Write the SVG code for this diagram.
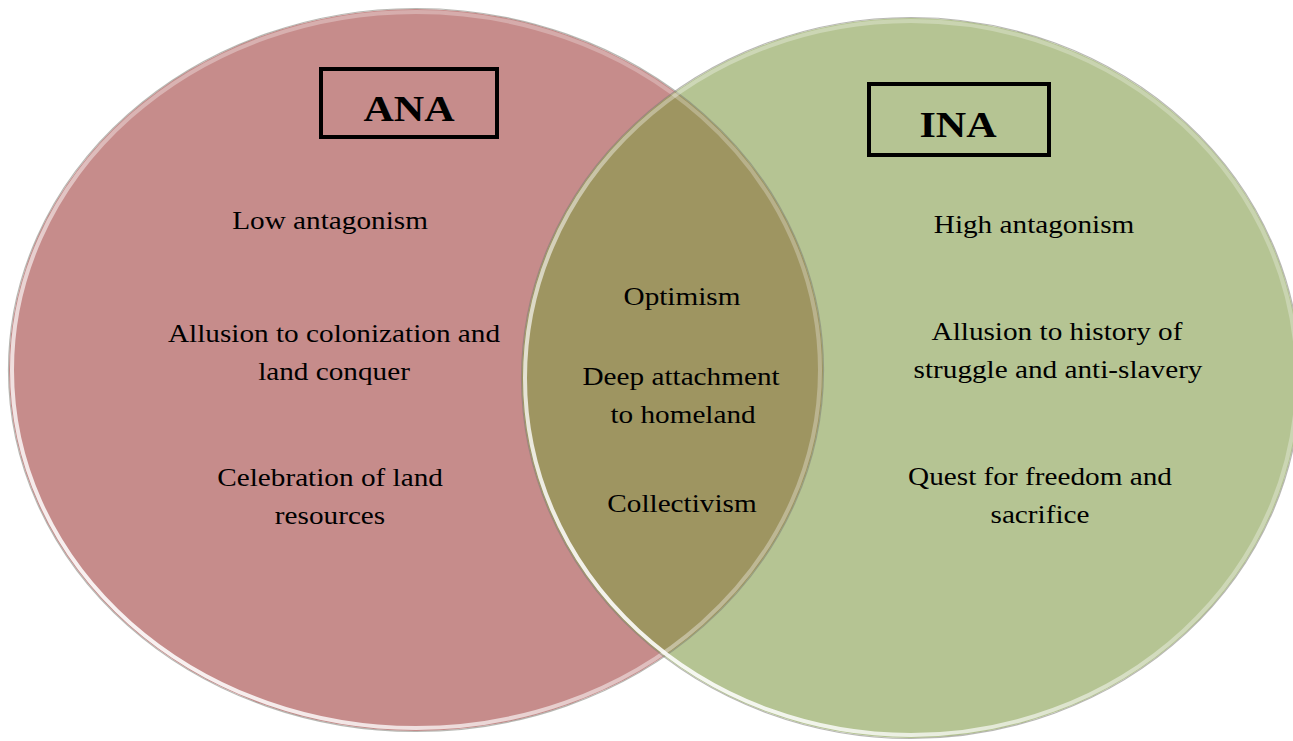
<svg xmlns="http://www.w3.org/2000/svg" width="1293" height="741" viewBox="0 0 1293 741">
<style>
.t{font-family:"Liberation Serif","Times New Roman",serif;font-size:25px;fill:#000;text-anchor:middle}
.h{font-family:"Liberation Serif","Times New Roman",serif;font-size:36px;font-weight:bold;fill:#000;text-anchor:middle}
.box{fill:none;stroke:#000;stroke-width:4}
.rim{fill:none;stroke:url(#rimGrad);stroke-width:4}
.shade{fill:none;stroke:#7d7d75;stroke-width:1.2;opacity:0.55}
</style>
<defs>
<clipPath id="clipL"><ellipse cx="416" cy="370" rx="407" ry="361"/></clipPath>
<linearGradient id="rimGrad" x1="0.9" y1="0.1" x2="0.1" y2="0.9">
<stop offset="0" stop-color="#ffffff" stop-opacity="0.25"/>
<stop offset="0.5" stop-color="#ffffff" stop-opacity="0.35"/>
<stop offset="1" stop-color="#ffffff" stop-opacity="0.95"/>
</linearGradient>
</defs>
<rect width="1293" height="741" fill="#ffffff"/>
<g id="ana-circle">
<ellipse cx="416" cy="370" rx="407" ry="361" fill="#c68c8b"/>
</g>
<g id="ina-circle">
<ellipse cx="911" cy="378" rx="389" ry="360" fill="#b5c493"/>
</g>
<g id="overlap">
<ellipse cx="911" cy="378" rx="389" ry="360" fill="#9e9561" clip-path="url(#clipL)"/>
</g>
<g id="rims">
<ellipse class="shade" cx="416" cy="370" rx="407.5" ry="361.5"/>
<ellipse class="rim" cx="416" cy="370" rx="404" ry="358"/>
<ellipse class="shade" cx="911" cy="378" rx="389.5" ry="360.5"/>
<ellipse class="rim" cx="911" cy="378" rx="386" ry="357"/>
</g>
<g id="connectors"></g>
<g id="ana-label">
<rect class="box" x="321" y="69" width="176" height="68"/>
<text class="h" transform="scale(1.17,1)" x="349.6" y="121">ANA</text>
</g>
<g id="ina-label">
<rect class="box" x="869" y="84" width="180" height="71"/>
<text class="h" transform="scale(1.17,1)" x="818.8" y="137">INA</text>
</g>
<g id="ana-items" transform="scale(1.17,1)">
<text class="t" x="282.1" y="229">Low antagonism</text>
<text class="t" x="285.5" y="342">Allusion to colonization and</text>
<text class="t" x="285.5" y="380">land conquer</text>
<text class="t" x="282.1" y="486">Celebration of land</text>
<text class="t" x="282.1" y="524">resources</text>
</g>
<g id="shared-items" transform="scale(1.17,1)">
<text class="t" x="582.9" y="305">Optimism</text>
<text class="t" x="582.1" y="385">Deep attachment</text>
<text class="t" x="583.8" y="423">to homeland</text>
<text class="t" x="582.9" y="512">Collectivism</text>
</g>
<g id="ina-items" transform="scale(1.17,1)">
<text class="t" x="883.8" y="233">High antagonism</text>
<text class="t" x="903.4" y="340">Allusion to history of</text>
<text class="t" x="904.3" y="378">struggle and anti-slavery</text>
<text class="t" x="888.9" y="485">Quest for freedom and</text>
<text class="t" x="888.9" y="523">sacrifice</text>
</g>
</svg>
